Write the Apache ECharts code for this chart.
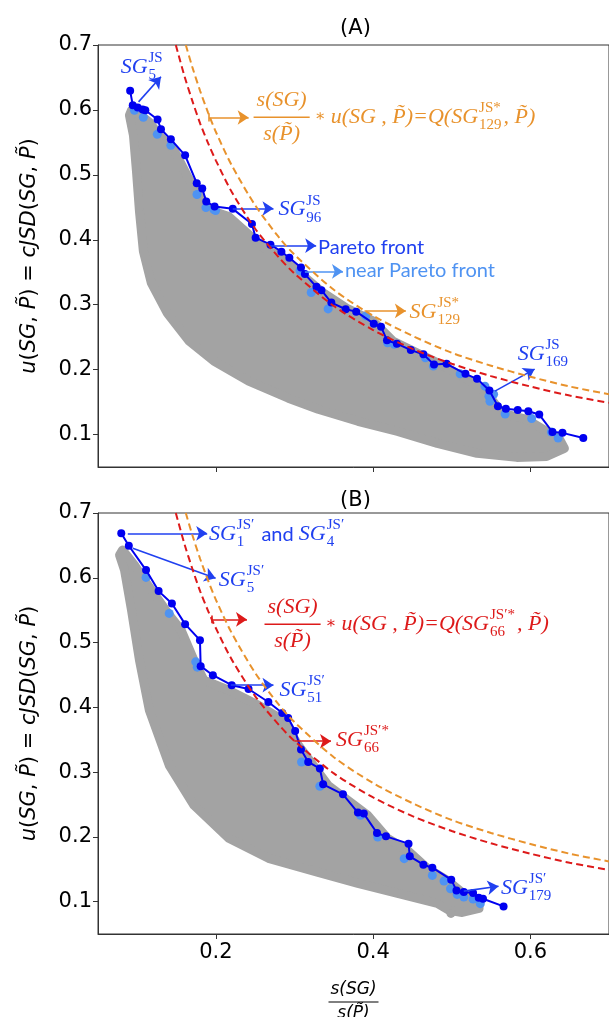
<!DOCTYPE html>
<html><head><meta charset="utf-8">
<script src="https://cdn.jsdelivr.net/npm/echarts@6/dist/echarts.min.js"></script>
<style>html,body{margin:0;padding:0;background:#fff}#c{width:609px;height:1017px}</style>
</head><body><div id="c"></div><script>
// ---------------- data ----------------
const yTicks = [0.1, 0.2, 0.3, 0.4, 0.5, 0.6, 0.7];
const xTicks = [0.2, 0.4, 0.6];

const paretoA = [[0.0909,0.6294],[0.0942,0.6073],[0.1005,0.6037],[0.1068,0.6006],[0.1102,0.5995],[0.1258,0.5852],[0.1301,0.5702],[0.1427,0.5547],[0.1608,0.5300],[0.1756,0.4872],[0.1826,0.4790],[0.1877,0.4589],[0.1983,0.4512],[0.2214,0.4476],[0.2458,0.4244],[0.2505,0.4032],[0.2694,0.3924],[0.2833,0.3816],[0.2934,0.3723],[0.3082,0.3573],[0.3132,0.3471],[0.3279,0.3275],[0.3342,0.3224],[0.3468,0.3032],[0.3650,0.2930],[0.3784,0.2893],[0.4008,0.2708],[0.4100,0.2662],[0.4176,0.2451],[0.4302,0.2399],[0.4479,0.2301],[0.4639,0.2235],[0.4774,0.2080],[0.4934,0.2090],[0.5174,0.1935],[0.5321,0.1858],[0.5479,0.1678],[0.5587,0.1436],[0.5688,0.1397],[0.5839,0.1377],[0.5974,0.1359],[0.6113,0.1308],[0.6281,0.1039],[0.6408,0.1026],[0.6673,0.0946]];
const nearA = [[0.0964,0.5995],[0.1077,0.5887],[0.1254,0.5624],[0.1427,0.5454],[0.1759,0.4697],[0.1873,0.4496],[0.1974,0.4465],[0.1996,0.4450],[0.3069,0.3522],[0.3212,0.3187],[0.3427,0.2935],[0.3907,0.2827],[0.4184,0.2414],[0.4269,0.2389],[0.4664,0.2182],[0.4766,0.2054],[0.5107,0.1935],[0.5422,0.1745],[0.5473,0.1590],[0.5486,0.1513],[0.5532,0.1621],[0.5679,0.1317],[0.6016,0.1246],[0.6268,0.1039],[0.6353,0.0946]];
const cloudA = [[0.0926,0.5995],[0.1027,0.5934],[0.1153,0.5810],[0.1279,0.5609],[0.1469,0.5377],[0.1633,0.4991],[0.1785,0.4682],[0.1936,0.4450],[0.2163,0.4357],[0.2391,0.4110],[0.2606,0.3878],[0.2858,0.3708],[0.3111,0.3445],[0.3364,0.3182],[0.3679,0.2935],[0.3995,0.2750],[0.4250,0.2440],[0.4563,0.2255],[0.4879,0.2070],[0.5195,0.1853],[0.5448,0.1637],[0.5637,0.1328],[0.5953,0.1235],[0.6206,0.1050],[0.6370,0.0930],
  [0.6433,0.0787],[0.6206,0.0663],[0.5827,0.0648],[0.5322,0.0710],[0.4816,0.0864],[0.4311,0.1049],[0.3806,0.1204],[0.3300,0.1390],[0.2921,0.1560],[0.2416,0.1822],[0.1974,0.2131],[0.1658,0.2440],[0.1380,0.2873],[0.1178,0.3337],[0.1077,0.3825],[0.1027,0.4444],[0.0989,0.5062],[0.0951,0.5609],[0.0900,0.5918]];

const paretoB = [[0.0796,0.6686],[0.0892,0.6495],[0.1111,0.6119],[0.1271,0.5794],[0.1440,0.5604],[0.1608,0.5284],[0.1797,0.5037],[0.1806,0.4635],[0.1961,0.4496],[0.2201,0.4342],[0.2415,0.4283],[0.2667,0.4082],[0.2844,0.3912],[0.2919,0.3835],[0.3008,0.3635],[0.3082,0.3348],[0.3174,0.3156],[0.3322,0.3054],[0.3364,0.2811],[0.3616,0.2657],[0.3806,0.2374],[0.3881,0.2359],[0.4049,0.2059],[0.4163,0.2008],[0.4450,0.1895],[0.4466,0.1699],[0.4639,0.1570],[0.4753,0.1524],[0.4993,0.1339],[0.5060,0.1173],[0.5153,0.1148],[0.5271,0.1132],[0.5343,0.1061],[0.5397,0.1045],[0.5659,0.0926]];
const nearB = [[0.1111,0.6006],[0.1406,0.5450],[0.1743,0.4702],[0.1763,0.4620],[0.3089,0.3156],[0.3322,0.2781],[0.3840,0.2332],[0.4058,0.1997],[0.4395,0.1663],[0.4753,0.1405],[0.4901,0.1317],[0.4984,0.1199],[0.5069,0.1111],[0.5153,0.1070],[0.5271,0.1039],[0.5363,0.0968]];
const cloudB = [[0.0812,0.6428],[0.0964,0.6196],[0.1090,0.5964],[0.1254,0.5686],[0.1406,0.5423],[0.1557,0.5192],[0.1721,0.4728],[0.1848,0.4419],[0.2163,0.4264],[0.2542,0.4032],[0.2858,0.3800],[0.3048,0.3414],[0.3237,0.3105],[0.3426,0.2796],[0.3679,0.2564],[0.3932,0.2332],[0.4184,0.1977],[0.4437,0.1791],[0.4690,0.1513],[0.4942,0.1328],[0.5132,0.1142],[0.5347,0.1000],
  [0.5347,0.0895],[0.5132,0.0833],[0.4967,0.0864],[0.4816,0.0972],[0.4311,0.1127],[0.3806,0.1281],[0.3301,0.1451],[0.2669,0.1668],[0.2163,0.1977],[0.1721,0.2487],[0.1406,0.3105],[0.1153,0.3955],[0.1027,0.4728],[0.0926,0.5501],[0.0837,0.6119],[0.0774,0.6351]];
const grayExtraB = [[0.4990,0.0818]];

const redCurve = [[0.149,0.700],[0.16,0.652],[0.17,0.614],[0.18,0.579],[0.19,0.549],[0.20,0.522],[0.22,0.474],[0.25,0.417],[0.28,0.373],[0.30,0.348],[0.35,0.298],[0.40,0.261],[0.45,0.232],[0.50,0.209],[0.55,0.190],[0.60,0.174],[0.65,0.160],[0.70,0.149]];
const orangeCurve = [[0.1617,0.700],[0.17,0.666],[0.18,0.629],[0.19,0.596],[0.20,0.566],[0.22,0.515],[0.25,0.453],[0.28,0.404],[0.30,0.377],[0.35,0.323],[0.40,0.283],[0.45,0.252],[0.50,0.226],[0.55,0.206],[0.60,0.189],[0.65,0.174],[0.70,0.162]];

// arrows: [from, to]
const arrowsA_blue = [[[0.1016,0.6124],[0.1301,0.6510]],[[0.2214,0.4481],[0.2732,0.4481]],[[0.2669,0.3909],[0.3275,0.3909]],[[0.5549,0.1668],[0.6054,0.2008]]];
const arrowsA_light = [[[0.3132,0.3512],[0.3616,0.3512]]];
const arrowsA_orange = [[[0.1911,0.5883],[0.2416,0.5883]],[[0.3890,0.2904],[0.4416,0.2904]]];
const barA_orange = [[0.1911,0.5943],[0.1911,0.5823]];
const arrowsB_blue = [[[0.0879,0.6686],[0.1889,0.6686]],[[0.0942,0.6454],[0.1996,0.5991]],[[0.2189,0.4342],[0.2732,0.4342]],[[0.5153,0.1162],[0.5595,0.1236]]];
const arrowsB_red = [[[0.1953,0.5357],[0.2395,0.5357]],[[0.2997,0.3476],[0.3464,0.3476]]];
const barB_red = [[0.1953,0.5417],[0.1953,0.5297]];

// ---------------- style ----------------
const GRAY='#a3a3a3', LIGHT='#4f93f2', BLUE='#0000f0', TBLUE='#2040f0', RED='#dd1a1a', ORANGE='#e8922c', AX='#333';
const F = { it:'italic 22px "Liberation Serif"', scr:'15px "Liberation Serif"', sans:'20px Lato', op:'16px "DejaVu Serif"' };

const chart = echarts.init(document.getElementById('c'), null, {renderer:'canvas'});
const yName = '{i|u}({i|SG}, {i|P̃}) = {i|cJSD}({i|SG}, {i|P̃})';

function grid(top,h){ return {left:98, width:515, top:top, height:h, show:true, borderColor:AX, borderWidth:1, backgroundColor:'transparent'}; }
function xAx(gi, labels){ return {gridIndex:gi, type:'value', min:0.05, max:0.7,
  axisLine:{show:true, lineStyle:{color:AX}}, axisTick:{show:true, length:5, customValues:xTicks, lineStyle:{color:AX}},
  axisLabel:{show:labels, customValues:xTicks, formatter:v=>v.toFixed(1), fontSize:21, color:'#000', fontFamily:'DejaVu Sans', margin:8},
  splitLine:{show:false}}; }
function yAx(gi){ return {gridIndex:gi, type:'value', min:0.05, max:0.7, name:yName, nameLocation:'middle', nameGap:58,
  nameTextStyle:{fontFamily:'DejaVu Sans', fontSize:21, color:'#000', rich:{i:{fontStyle:'italic', fontFamily:'DejaVu Sans', fontSize:21, color:'#000'}}},
  axisLine:{show:true, lineStyle:{color:AX}}, axisTick:{show:true, length:5, customValues:yTicks, lineStyle:{color:AX}},
  axisLabel:{customValues:yTicks, formatter:v=>v.toFixed(1), fontSize:21, color:'#000', fontFamily:'DejaVu Sans', margin:6},
  splitLine:{show:false}}; }

function cloudSeries(i, pts){
  return {type:'custom', xAxisIndex:i, yAxisIndex:i, data:pts, z:1, silent:true, encode:{x:0,y:1},
    renderItem:(params, api)=>{
      if(params.dataIndex!==0) return null;
      return {type:'polygon', shape:{points:pts.map(p=>api.coord(p))}, style:{fill:GRAY, stroke:GRAY, lineWidth:9, lineJoin:'round'}};
    }};
}
function scat(i, pts, color, size, z){ return {type:'scatter', xAxisIndex:i, yAxisIndex:i, data:pts, symbolSize:size, itemStyle:{color:color, opacity:1}, z:z, silent:true}; }
function front(i, pts){ return {type:'line', xAxisIndex:i, yAxisIndex:i, data:pts, symbol:'circle', symbolSize:8, showSymbol:true,
  lineStyle:{color:BLUE, width:2}, itemStyle:{color:BLUE}, z:4, silent:true}; }
function curve(i, pts, color){ return {type:'line', xAxisIndex:i, yAxisIndex:i, data:pts, smooth:0.3, symbol:'none',
  lineStyle:{color:color, width:2, type:[7,4]}, z:5, silent:true}; }
function arrowSeries(i, groups){
  const data=[];
  groups.forEach(g=>{
    g.arrows.forEach(a=>data.push([{coord:a[0], lineStyle:{color:g.color}}, {coord:a[1], lineStyle:{color:g.color}}]));
    (g.bars||[]).forEach(b=>data.push([{coord:b[0], symbol:'none', lineStyle:{color:g.color}}, {coord:b[1], symbol:'none', lineStyle:{color:g.color}}]));
  });
  return {type:'scatter', xAxisIndex:i, yAxisIndex:i, data:[[0.05,0.05]], symbolSize:0, silent:true, z:6,
    markLine:{silent:true, animation:false, symbol:['none','arrow'], symbolSize:11, label:{show:false},
      lineStyle:{width:1.6, type:'solid'}, emphasis:{disabled:true}, data:data}};
}

const option = {
  animation:false,
  backgroundColor:'#fff',
  title:[
    {text:'(A)', left:355.5, top:17, textAlign:'center', padding:0, textStyle:{fontFamily:'DejaVu Sans', fontSize:21, fontWeight:'normal', color:'#000', lineHeight:24}},
    {text:'(B)', left:355.5, top:489, textAlign:'center', padding:0, textStyle:{fontFamily:'DejaVu Sans', fontSize:21, fontWeight:'normal', color:'#000', lineHeight:24}}
  ],
  grid:[grid(45,422), grid(513,421)],
  xAxis:[xAx(0,false), xAx(1,true)],
  yAxis:[yAx(0), yAx(1)],
  series:[
    cloudSeries(0, cloudA), scat(0, nearA, LIGHT, 9, 2), front(0, paretoA), curve(0, redCurve, RED), curve(0, orangeCurve, ORANGE),
    arrowSeries(0, [{color:TBLUE, arrows:arrowsA_blue},{color:LIGHT, arrows:arrowsA_light},{color:ORANGE, arrows:arrowsA_orange, bars:[barA_orange]}]),
    cloudSeries(1, cloudB), scat(1, grayExtraB, GRAY, 9, 1), scat(1, nearB, LIGHT, 9, 2), front(1, paretoB), curve(1, redCurve, RED), curve(1, orangeCurve, ORANGE),
    arrowSeries(1, [{color:TBLUE, arrows:arrowsB_blue},{color:RED, arrows:arrowsB_red, bars:[barB_red]}])
  ]
};
chart.setOption(option);

// ---------------- annotations ----------------
const mctx = document.createElement('canvas').getContext('2d');
function tw(t,f){ mctx.font=f; return mctx.measureText(t).width; }
function txt(x,y,t,f,c,al){ return {type:'text', x:x, y:y, silent:true, z:100,
  style:{text:t, font:f, fill:c, textAlign:al||'left', textVerticalAlign:'middle', align:al||'left', verticalAlign:'middle'}}; }
function run(x0, cy, segs, c){
  const els=[]; let x=x0;
  segs.forEach(s=>{
    if(s.sup!==undefined||s.sub!==undefined){
      let w=0;
      if(s.sup){ els.push(txt(x+1, cy-9, s.sup, F.scr, c)); w=Math.max(w, tw(s.sup,F.scr)); }
      if(s.sub){ els.push(txt(x+1, cy+8, s.sub, F.scr, c)); w=Math.max(w, tw(s.sub,F.scr)); }
      x+=w+3;
    } else { const f=F[s.f||'it']; els.push(txt(x, cy, s.t, f, c)); x+=tw(s.t,f); }
  });
  return els;
}
function P(g, xy){ return chart.convertToPixel({gridIndex:g}, xy); }
function label(g, xy, segs, c){ const p=P(g,xy); return run(p[0], p[1], segs, c); }
function fraction(g, xy, rest, c){
  const p=P(g,xy); const num='s(SG)', den='s(P̃)';
  const w=Math.max(tw(num,F.it), tw(den,F.it))+6;
  const els=[txt(p[0]+w/2, p[1]-17, num, F.it, c, 'center'), txt(p[0]+w/2, p[1]+17, den, F.it, c, 'center'),
    {type:'line', silent:true, z:100, shape:{x1:p[0], y1:p[1], x2:p[0]+w, y2:p[1]}, style:{stroke:c, lineWidth:1.5}}];
  return els.concat(run(p[0]+w+5, p[1], rest, c));
}
let G=[];
G=G.concat(label(0,[0.0788,0.6660],[{t:'SG'},{sup:'JS',sub:'5'}],TBLUE));
G=G.concat(label(0,[0.2795,0.4465],[{t:'SG'},{sup:'JS',sub:'96'}],TBLUE));
G=G.concat(label(0,[0.4463,0.2889],[{t:'SG'},{sup:'JS*',sub:'129'}],ORANGE));
G=G.concat(label(0,[0.5838,0.2240],[{t:'SG'},{sup:'JS',sub:'169'}],TBLUE));
G=G.concat(label(0,[0.3300,0.3878],[{t:'Pareto front',f:'sans'}],TBLUE));
G=G.concat(label(0,[0.3641,0.3522],[{t:'near Pareto front',f:'sans'}],LIGHT));
G=G.concat(fraction(0,[0.2479,0.5887],[{t:'∗ ',f:'op'},{t:'u(SG , P̃)=Q(SG'},{sup:'JS*',sub:'129'},{t:', P̃)'}],ORANGE));
G=G.concat(label(1,[0.1911,0.6675],[{t:'SG'},{sup:'JS′',sub:'1'},{t:' and ',f:'sans'},{t:'SG'},{sup:'JS′',sub:'4'}],TBLUE));
G=G.concat(label(1,[0.2037,0.5964],[{t:'SG'},{sup:'JS′',sub:'5'}],TBLUE));
G=G.concat(fraction(1,[0.2618,0.5284],[{t:'∗ ',f:'op'},{t:'u(SG , P̃)=Q(SG'},{sup:'JS′*',sub:'66'},{t:', P̃)'}],RED));
G=G.concat(label(1,[0.2808,0.4264],[{t:'SG'},{sup:'JS′',sub:'51'}],TBLUE));
G=G.concat(label(1,[0.3528,0.3492],[{t:'SG'},{sup:'JS′*',sub:'66'}],RED));
G=G.concat(label(1,[0.5625,0.1204],[{t:'SG'},{sup:'JS′',sub:'179'}],TBLUE));
// x-axis name (fraction)
const cx = P(1,[0.375,0.05])[0], by = P(1,[0.375,0.05])[1];
const XF='italic 17px "DejaVu Sans"';
G.push(txt(cx, by+56, 's(SG)', XF, '#000', 'center'));
G.push({type:'line', silent:true, z:100, shape:{x1:cx-25, y1:by+68, x2:cx+25, y2:by+68}, style:{stroke:'#000', lineWidth:1.2}});
G.push(txt(cx, by+80, 's(P̃)', XF, '#000', 'center'));
chart.setOption({graphic:{elements:G}});
</script></body></html>
